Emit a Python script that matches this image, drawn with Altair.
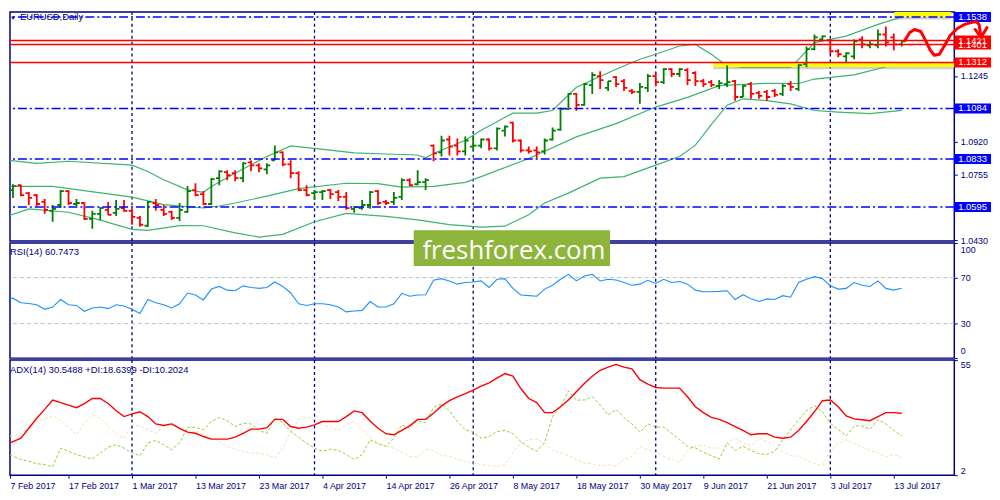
"""EURUSD daily chart: OHLC bars with Bollinger bands, RSI(14) and ADX(14) panels."""

import json

import altair as alt
import pandas as pd

_FONT = "Liberation Sans"
_NAVY = "#000080"
_BULL = "#008000"
_BEAR = "#FF0000"
_BAND = "#3CB371"
_BLUE = "#0000FF"
_RED = "#FF0000"

_W = 952
_H_PRICE, _H_RSI, _H_ADX = 231, 116, 116
_X_DOMAIN = [0.625, 119.625]
_PRICE_DOMAIN = [1.0426, 1.1563]

# one bar per trading day, 7 Feb 2017 .. 14 Jul 2017
opens = [
    1.0743, 1.0679, 1.0703, 1.0664, 1.0654, 1.0620, 1.0576, 1.0605, 1.0674, 1.0610,
    1.0615, 1.0536, 1.0561, 1.0581, 1.0566, 1.0590, 1.0576, 1.0541, 1.0502, 1.0615,
    1.0581, 1.0571, 1.0541, 1.0571, 1.0679, 1.0659, 1.0610, 1.0738, 1.0768, 1.0763,
    1.0738, 1.0817, 1.0802, 1.0782, 1.0827, 1.0866, 1.0807, 1.0763, 1.0679, 1.0664,
    1.0669, 1.0679, 1.0669, 1.0645, 1.0586, 1.0590, 1.0605, 1.0674, 1.0620, 1.0620,
    1.0645, 1.0728, 1.0708, 1.0718, 1.0900, 1.0866, 1.0930, 1.0900, 1.0871, 1.0895,
    1.0900, 1.0930, 1.0886, 1.0974, 1.1014, 1.0925, 1.0876, 1.0876, 1.0871, 1.0930,
    1.0979, 1.1082, 1.1156, 1.1102, 1.1200, 1.1245, 1.1186, 1.1240, 1.1220, 1.1171,
    1.1166, 1.1186, 1.1245, 1.1215, 1.1279, 1.1255, 1.1274, 1.1260, 1.1220, 1.1215,
    1.1196, 1.1205, 1.1220, 1.1141, 1.1205, 1.1161, 1.1166, 1.1171, 1.1156, 1.1205,
    1.1181, 1.1304, 1.1378, 1.1427, 1.1422, 1.1368, 1.1343, 1.1343, 1.1427, 1.1397,
    1.1397, 1.1451, 1.1437, 1.1402,
]
highs = [
    1.0753, 1.0708, 1.0705, 1.0669, 1.0659, 1.0635, 1.0605, 1.0679, 1.0679, 1.0635,
    1.0617, 1.0576, 1.0595, 1.0620, 1.0630, 1.0630, 1.0586, 1.0551, 1.0625, 1.0635,
    1.0605, 1.0576, 1.0615, 1.0699, 1.0713, 1.0674, 1.0738, 1.0777, 1.0777, 1.0777,
    1.0817, 1.0827, 1.0812, 1.0812, 1.0900, 1.0871, 1.0827, 1.0772, 1.0703, 1.0679,
    1.0679, 1.0684, 1.0679, 1.0669, 1.0600, 1.0630, 1.0674, 1.0679, 1.0630, 1.0669,
    1.0738, 1.0738, 1.0777, 1.0738, 1.0905, 1.0949, 1.0949, 1.0935, 1.0945, 1.0949,
    1.0935, 1.0935, 1.0989, 1.0999, 1.1018, 1.0930, 1.0895, 1.0895, 1.0935, 1.0989,
    1.1087, 1.1161, 1.1161, 1.1210, 1.1264, 1.1269, 1.1220, 1.1245, 1.1230, 1.1181,
    1.1210, 1.1255, 1.1264, 1.1284, 1.1284, 1.1284, 1.1284, 1.1269, 1.1230, 1.1225,
    1.1225, 1.1299, 1.1225, 1.1200, 1.1215, 1.1171, 1.1176, 1.1181, 1.1205, 1.1220,
    1.1304, 1.1392, 1.1451, 1.1446, 1.1427, 1.1378, 1.1363, 1.1427, 1.1442, 1.1417,
    1.1476, 1.1491, 1.1456, 1.1422,
]
lows = [
    1.0654, 1.0640, 1.0649, 1.0605, 1.0600, 1.0561, 1.0522, 1.0590, 1.0605, 1.0600,
    1.0531, 1.0487, 1.0531, 1.0556, 1.0551, 1.0571, 1.0507, 1.0497, 1.0497, 1.0576,
    1.0551, 1.0531, 1.0526, 1.0566, 1.0649, 1.0605, 1.0605, 1.0703, 1.0728, 1.0723,
    1.0718, 1.0772, 1.0768, 1.0758, 1.0827, 1.0797, 1.0738, 1.0674, 1.0649, 1.0630,
    1.0630, 1.0635, 1.0625, 1.0581, 1.0566, 1.0581, 1.0586, 1.0605, 1.0605, 1.0605,
    1.0630, 1.0699, 1.0703, 1.0679, 1.0822, 1.0846, 1.0851, 1.0851, 1.0851, 1.0876,
    1.0886, 1.0876, 1.0876, 1.0945, 1.0915, 1.0866, 1.0861, 1.0836, 1.0856, 1.0925,
    1.0974, 1.1077, 1.1073, 1.1097, 1.1156, 1.1181, 1.1171, 1.1191, 1.1171, 1.1156,
    1.1107, 1.1166, 1.1196, 1.1205, 1.1240, 1.1240, 1.1201, 1.1196, 1.1191, 1.1191,
    1.1181, 1.1191, 1.1122, 1.1141, 1.1132, 1.1132, 1.1122, 1.1141, 1.1146, 1.1171,
    1.1171, 1.1289, 1.1373, 1.1417, 1.1353, 1.1338, 1.1314, 1.1328, 1.1383, 1.1383,
    1.1383, 1.1392, 1.1373, 1.1392,
]
closes = [
    1.0684, 1.0699, 1.0654, 1.0640, 1.0610, 1.0581, 1.0586, 1.0674, 1.0615, 1.0615,
    1.0536, 1.0561, 1.0590, 1.0556, 1.0586, 1.0576, 1.0546, 1.0507, 1.0620, 1.0605,
    1.0561, 1.0541, 1.0581, 1.0674, 1.0654, 1.0610, 1.0733, 1.0772, 1.0753, 1.0738,
    1.0812, 1.0802, 1.0787, 1.0802, 1.0866, 1.0807, 1.0763, 1.0679, 1.0654, 1.0669,
    1.0674, 1.0659, 1.0645, 1.0590, 1.0595, 1.0605, 1.0669, 1.0615, 1.0615, 1.0640,
    1.0728, 1.0703, 1.0718, 1.0728, 1.0861, 1.0925, 1.0895, 1.0871, 1.0925, 1.0900,
    1.0930, 1.0886, 1.0984, 1.0994, 1.0925, 1.0876, 1.0871, 1.0866, 1.0925, 1.0974,
    1.1082, 1.1156, 1.1102, 1.1205, 1.1250, 1.1225, 1.1220, 1.1205, 1.1186, 1.1166,
    1.1191, 1.1245, 1.1215, 1.1279, 1.1255, 1.1279, 1.1225, 1.1220, 1.1205, 1.1201,
    1.1210, 1.1215, 1.1141, 1.1196, 1.1156, 1.1146, 1.1141, 1.1151, 1.1196, 1.1191,
    1.1299, 1.1378, 1.1437, 1.1442, 1.1368, 1.1353, 1.1358, 1.1417, 1.1402, 1.1402,
    1.1451, 1.1412, 1.1402, 1.1417,
]

date_labels = [
    "7 Feb 2017", "17 Feb 2017", "1 Mar 2017", "13 Mar 2017", "23 Mar 2017",
    "4 Apr 2017", "14 Apr 2017", "26 Apr 2017", "8 May 2017", "18 May 2017",
    "30 May 2017", "9 Jun 2017", "21 Jun 2017", "3 Jul 2017", "13 Jul 2017",
]
month_starts = [16, 39, 59, 82, 104]

# Bollinger bands (20, 2)
upper_idx = [0, 4, 8, 16, 18, 20, 23, 25, 26, 29, 33, 36, 39, 44, 48, 52, 53, 54, 58, 60,
             64, 67, 69, 72, 77, 80, 82, 85, 87, 89, 91, 93, 99, 100, 102, 106, 110, 113]
upper_val = [1.0828, 1.0812, 1.0822, 1.0803, 1.0771, 1.0730, 1.0680, 1.0668, 1.0697, 1.0763,
             1.0846, 1.0898, 1.0886, 1.0864, 1.0858, 1.0853, 1.0839, 1.0861, 1.0926, 1.0976,
             1.1061, 1.1061, 1.1074, 1.1189, 1.1279, 1.1328, 1.1353, 1.1394, 1.1402, 1.1353,
             1.1295, 1.1288, 1.1288, 1.1328, 1.1411, 1.1443, 1.1501, 1.1537]
mid_idx = [0, 6, 16, 20, 25, 27, 29, 33, 37, 43, 47, 50, 54, 58, 60, 66, 72, 77, 82, 86,
           90, 96, 100, 102, 107, 113]
mid_val = [1.0697, 1.0697, 1.0644, 1.0607, 1.0590, 1.0600, 1.0615, 1.0649, 1.0686, 1.0713,
           1.0711, 1.0694, 1.0697, 1.0717, 1.0746, 1.0836, 1.0943, 1.1009, 1.1091, 1.1139,
           1.1197, 1.1209, 1.1208, 1.1230, 1.1251, 1.1311]
lower_idx = [0, 3, 8, 12, 16, 18, 22, 25, 29, 32, 35, 39, 43, 48, 52, 56, 60, 63, 66, 68,
             71, 75, 78, 82, 85, 87, 89, 91, 93, 96, 99, 102, 105, 109, 113]
lower_val = [1.0545, 1.0586, 1.0569, 1.0530, 1.0484, 1.0479, 1.0503, 1.0502, 1.0467, 1.0446,
             1.0459, 1.0522, 1.0563, 1.0549, 1.0531, 1.0508, 1.0495, 1.0500, 1.0557, 1.0615,
             1.0664, 1.0738, 1.0746, 1.0803, 1.0846, 1.0902, 1.1004, 1.1100, 1.1132, 1.1123,
             1.1107, 1.1074, 1.1066, 1.1058, 1.1075]

rsi = [
    50.9, 52.1, 48.1, 47.5, 46.4, 42.4, 44.4, 50.9, 46.4, 45.8,
    40.7, 43.6, 44.4, 43.0, 46.4, 45.3, 42.4, 38.7, 50.9, 48.1,
    46.4, 43.6, 47.2, 56.6, 54.9, 50.6, 60.0, 62.3, 59.1, 58.6,
    62.8, 61.4, 60.6, 61.4, 66.2, 62.3, 56.6, 47.2, 45.8, 47.2,
    47.2, 46.4, 44.4, 40.2, 41.0, 41.5, 49.2, 44.4, 44.4, 47.2,
    56.3, 53.8, 54.9, 55.1, 67.7, 69.1, 67.1, 64.3, 65.7, 66.2,
    67.1, 61.4, 68.5, 69.1, 60.6, 54.9, 54.3, 53.8, 60.0, 63.4,
    68.5, 72.8, 67.1, 71.3, 72.8, 67.1, 68.5, 67.9, 65.7, 63.4,
    64.3, 67.7, 64.9, 68.5, 65.7, 66.6, 64.3, 59.1, 57.7, 57.7,
    58.0, 58.6, 50.9, 55.1, 51.5, 49.2, 51.5, 50.9, 54.3, 52.9,
    65.7, 68.5, 70.8, 69.1, 62.8, 60.0, 60.6, 65.7, 63.4, 62.3,
    67.1, 60.6, 59.1, 60.7,
]
adx = [
    16.0, 17.5, 19.0, 23.6, 28.2, 32.3, 36.6, 35.4, 34.3, 33.1,
    35.0, 37.3, 37.3, 35.0, 31.7, 29.0, 30.2, 31.2, 29.0, 25.6,
    24.9, 25.6, 23.6, 21.8, 21.3, 19.8, 18.6, 18.6, 18.6, 19.5,
    21.3, 23.2, 23.2, 23.9, 27.7, 27.7, 24.4, 23.6, 24.1, 25.2,
    26.7, 26.7, 26.7, 29.0, 31.6, 30.8, 27.0, 23.6, 21.1, 20.6,
    22.6, 24.7, 27.7, 27.7, 30.5, 33.9, 36.3, 38.1, 39.6, 41.2,
    43.0, 44.5, 46.7, 48.8, 47.6, 41.9, 37.3, 35.4, 30.8, 30.8,
    33.5, 36.6, 40.4, 44.2, 47.6, 50.3, 51.8, 53.0, 51.8, 51.0,
    46.0, 43.9, 42.4, 42.1, 42.1, 42.1, 38.1, 33.5, 30.8, 28.6,
    27.7, 26.2, 24.4, 22.6, 20.6, 21.1, 21.1, 19.5, 19.0, 19.5,
    22.6, 26.7, 31.2, 36.3, 36.6, 33.5, 29.3, 27.9, 27.5, 27.1,
    29.0, 30.8, 30.8, 30.5,
]
plus_di = [
    12.2, 10.7, 9.2, 8.4, 7.3, 6.9, 5.8, 14.5, 13.0, 11.5,
    10.4, 9.4, 12.2, 14.9, 16.0, 14.5, 12.2, 11.0, 16.8, 18.0,
    16.0, 13.7, 16.8, 24.1, 24.1, 22.9, 26.7, 28.6, 27.1, 24.4,
    25.9, 25.6, 22.6, 21.3, 28.6, 26.2, 22.1, 19.5, 16.8, 14.5,
    13.0, 14.0, 13.4, 11.5, 9.2, 11.5, 18.3, 16.5, 15.3, 19.0,
    25.2, 23.6, 27.1, 26.2, 33.2, 34.8, 31.7, 26.7, 22.9, 21.7,
    19.0, 19.8, 22.1, 22.6, 21.1, 17.5, 14.9, 13.0, 17.1, 29.0,
    33.5, 40.8, 36.6, 36.6, 38.1, 34.3, 29.7, 32.3, 28.6, 25.6,
    21.7, 25.6, 24.1, 24.1, 21.3, 18.3, 15.3, 14.5, 12.5, 11.0,
    9.4, 16.8, 13.4, 15.3, 13.4, 11.9, 11.5, 13.0, 18.3, 22.9,
    27.5, 31.7, 34.0, 31.2, 25.9, 22.9, 20.1, 24.7, 24.7, 23.2,
    27.5, 25.6, 22.6, 20.1,
]
minus_di = [
    20.1, 20.1, 21.3, 24.4, 26.7, 27.7, 29.3, 27.1, 24.4, 20.6,
    25.9, 29.7, 28.2, 24.4, 21.3, 19.0, 25.2, 24.7, 22.9, 21.3,
    24.7, 26.2, 23.6, 21.1, 22.6, 20.6, 19.5, 17.5, 15.3, 14.0,
    13.0, 12.2, 12.2, 11.5, 9.9, 14.5, 22.1, 27.7, 28.6, 27.7,
    24.7, 24.4, 22.6, 25.2, 26.7, 22.9, 19.8, 16.8, 15.3, 14.5,
    12.5, 10.7, 10.4, 14.0, 13.4, 11.0, 10.7, 9.2, 8.4, 7.6,
    6.9, 6.4, 6.0, 6.9, 12.2, 17.1, 18.3, 18.6, 16.8, 13.4,
    12.2, 11.0, 9.2, 7.6, 7.3, 6.4, 6.7, 6.4, 9.2, 10.7,
    15.3, 13.7, 12.5, 10.7, 9.2, 7.9, 13.4, 15.3, 16.0, 14.5,
    14.5, 16.8, 19.0, 17.1, 15.3, 19.0, 17.5, 15.3, 13.0, 11.0,
    10.7, 8.9, 7.3, 6.4, 13.4, 16.5, 18.3, 16.5, 14.9, 13.4,
    12.2, 10.4, 11.5, 10.2,
]

blue_levels = [1.1538, 1.1084, 1.0833, 1.0595]
red_levels = [1.1421, 1.1401, 1.1312]
label_prices = [1.1538, 1.1084, 1.0833, 1.0595, 1.1401, 1.1421, 1.1312]
label_colors = [_BLUE, _BLUE, _BLUE, _BLUE, _RED, _RED, _RED]

# yellow marker zones
zone_start = [89.25, 112.1]
zone_end = [119.625, 119.25]
zone_low = [1.1290, 1.1538]
zone_high = [1.1312, 1.1563]

# hand-drawn forecast path
forecast_idx = [113.4, 114.0, 114.6, 115.4, 116.0, 116.6, 117.1, 117.75, 118.4, 119.1,
                120.0, 120.9, 121.75, 122.4, 122.75, 123.0]
forecast_price = [1.1422, 1.1461, 1.1476, 1.1466, 1.1422, 1.1373, 1.1348, 1.1353, 1.1397, 1.1446,
                  1.1481, 1.1501, 1.1510, 1.1515, 1.1501, 1.1437]
arrow_idx = [122.25, 123.0, 123.75]
arrow_price = [1.1476, 1.1437, 1.1486]

_XS = alt.Scale(domain=_X_DOMAIN, nice=False, zero=False)
_PS = alt.Scale(domain=_PRICE_DOMAIN, nice=False, zero=False)
_PRICE_AXIS = alt.Axis(orient="right", values=[1.1245, 1.0920, 1.0755, 1.0430], format=".4f",
                       title=None, tickSize=3, labelPadding=3)


def _x(field: str, axis=None) -> alt.X:
    return alt.X(f"{field}:Q", scale=_XS, axis=axis)


def _py(field: str) -> alt.Y:
    return alt.Y(f"{field}:Q", scale=_PS, axis=_PRICE_AXIS)


def _caption(text: str, x: float, y: float, size: float = 9.5, font: str = _FONT,
             color: str = _NAVY, align: str = "left") -> alt.Chart:
    return (
        alt.Chart(pd.DataFrame({"t": [text]}))
        .mark_text(align=align, baseline="alphabetic", font=font, fontSize=size, color=color)
        .encode(x=alt.value(x), y=alt.value(y), text="t:N")
    )


def _separators(axis=None) -> alt.Chart:
    return (
        alt.Chart(pd.DataFrame({"i": month_starts}))
        .mark_rule(color=_NAVY, strokeDash=[3, 3], strokeWidth=1.3)
        .encode(x=_x("i", axis))
    )


def _band(idx: list, vals: list) -> alt.Chart:
    return (
        alt.Chart(pd.DataFrame({"i": idx, "p": vals}))
        .mark_line(color=_BAND, strokeWidth=1.2, clip=True)
        .encode(x=_x("i"), y=_py("p"))
    )


def price_panel() -> alt.LayerChart:
    bars = pd.DataFrame({"i": range(len(opens)), "o": opens, "h": highs, "l": lows, "c": closes})
    bars["dir"] = ["up" if c >= o else "down" for o, c in zip(opens, closes)]
    color = alt.Color("dir:N", scale=alt.Scale(domain=["up", "down"], range=[_BULL, _BEAR]), legend=None)
    base = alt.Chart(bars)
    wick = base.mark_rule(strokeWidth=1.8, clip=True).encode(x=_x("i"), y=_py("l"), y2="h:Q", color=color)
    open_tick = (
        base.transform_calculate(xa="datum.i - 0.42")
        .mark_rule(strokeWidth=1.8, clip=True)
        .encode(x=_x("xa"), x2="i:Q", y=_py("o"), color=color)
    )
    close_tick = (
        base.transform_calculate(xb="datum.i + 0.42")
        .mark_rule(strokeWidth=1.8, clip=True)
        .encode(x=_x("i"), x2="xb:Q", y=_py("c"), color=color)
    )

    zones = pd.DataFrame({"a": zone_start, "b": zone_end, "lo": zone_low, "hi": zone_high})
    zone_shadow = (
        alt.Chart(zones)
        .transform_calculate(slo="datum.lo - 0.0012", shi="datum.hi - 0.0012")
        .mark_rect(color="#9a9a9a", opacity=0.45)
        .encode(x=_x("a"), x2="b:Q", y=_py("slo"), y2="shi:Q")
    )
    zone_rect = alt.Chart(zones).mark_rect(color="#FFFF00").encode(x=_x("a"), x2="b:Q", y=_py("lo"), y2="hi:Q")

    blue = (
        alt.Chart(pd.DataFrame({"p": blue_levels}))
        .mark_rule(color=_BLUE, strokeWidth=1.5, strokeDash=[9, 3, 2, 3])
        .encode(y=_py("p"))
    )
    red = alt.Chart(pd.DataFrame({"p": red_levels})).mark_rule(color=_RED, strokeWidth=1.5).encode(y=_py("p"))

    labels = pd.DataFrame({"p": label_prices, "col": label_colors})
    label_box = (
        alt.Chart(labels)
        .transform_calculate(lo="datum.p - 0.00245", hi="datum.p + 0.00245")
        .mark_rect()
        .encode(x=alt.value(_W), x2=alt.value(_W + 37), y=_py("lo"), y2="hi:Q",
                color=alt.Color("col:N", scale=None))
    )
    label_text = (
        alt.Chart(labels)
        .mark_text(align="left", baseline="middle", font=_FONT, fontSize=9.5, color="white")
        .encode(x=alt.value(_W + 4), y=_py("p"), text=alt.Text("p:Q", format=".4f"))
    )

    forecast = (
        alt.Chart(pd.DataFrame({"i": forecast_idx, "p": forecast_price}))
        .mark_line(color=_RED, strokeWidth=3, strokeCap="round", strokeJoin="round")
        .encode(x=_x("i"), y=_py("p"))
    )
    arrow = (
        alt.Chart(pd.DataFrame({"i": arrow_idx, "p": arrow_price}))
        .mark_line(color=_RED, strokeWidth=3, strokeCap="round", strokeJoin="round")
        .encode(x=_x("i"), y=_py("p"))
    )

    return alt.layer(
        _separators(),
        _band(upper_idx, upper_val),
        _band(mid_idx, mid_val),
        _band(lower_idx, lower_val),
        zone_shadow,
        zone_rect,
        wick,
        open_tick,
        close_tick,
        blue,
        red,
        label_box,
        label_text,
        forecast,
        arrow,
        _caption("\u25bc", 3, 8, size=6, align="center"),
        _caption("EURUSD,Daily", 10, 8),
    ).properties(width=_W, height=_H_PRICE)


def rsi_panel() -> alt.LayerChart:
    scale = alt.Scale(domain=[0, 100], nice=False)
    axis = alt.Axis(orient="right", values=[0, 30, 70, 100], title=None, labelFlush=True,
                    labelFlushOffset=-3, tickSize=3, labelPadding=3)
    levels = (
        alt.Chart(pd.DataFrame({"v": [30, 70]}))
        .mark_rule(color="#C0C0C0", strokeDash=[4, 3], strokeWidth=1)
        .encode(y=alt.Y("v:Q", scale=scale, axis=axis))
    )
    line = (
        alt.Chart(pd.DataFrame({"i": range(len(rsi)), "v": rsi}))
        .mark_line(color="#1E90FF", strokeWidth=1.1, clip=True)
        .encode(x=_x("i"), y=alt.Y("v:Q", scale=scale, axis=axis))
    )
    logo_box = (
        alt.Chart(pd.DataFrame({"t": ["freshforex.com"]}))
        .mark_rect(color="#8DB53C")
        .encode(x=alt.value(407), x2=alt.value(605), y=alt.value(-13), y2=alt.value(23))
    )
    logo_text = _caption("freshforex.com", 508, 16, size=26, font="Open Sans", color="white", align="center")
    return alt.layer(
        _separators(), levels, line, logo_box, logo_text, _caption("RSI(14) 60.7473", 0, 12)
    ).properties(width=_W, height=_H_RSI)


def adx_panel() -> alt.LayerChart:
    scale = alt.Scale(domain=[2, 55], nice=False, zero=False)
    axis = alt.Axis(orient="right", values=[2, 55], title=None, labelFlush=True, tickSize=3, labelPadding=3)
    label_expr = f"{json.dumps(date_labels)}[round(datum.value / 8)]"
    x_axis = alt.Axis(
        orient="bottom",
        values=[0.625] + [8 * k for k in range(1, len(date_labels))],
        labelExpr=label_expr,
        labelAlign="left",
        labelOverlap=False,
        labelFlush=False,
        tickSize=3,
        labelPadding=3,
        title=None,
    )
    df = pd.DataFrame({"i": range(len(adx)), "adx": adx, "pdi": plus_di, "mdi": minus_di})
    base = alt.Chart(df)
    x_enc = _x("i", x_axis)
    minus = base.mark_line(color="#F5DEB3", strokeWidth=1, strokeDash=[3, 2], clip=True).encode(
        x=x_enc, y=alt.Y("mdi:Q", scale=scale, axis=axis))
    plus = base.mark_line(color="#9ACD32", strokeWidth=1, strokeDash=[3, 2], clip=True).encode(
        x=x_enc, y=alt.Y("pdi:Q", scale=scale, axis=axis))
    main = base.mark_line(color=_RED, strokeWidth=1.4, clip=True).encode(
        x=x_enc, y=alt.Y("adx:Q", scale=scale, axis=axis))
    return alt.layer(
        _separators(x_axis), minus, plus, main,
        _caption("ADX(14) 30.5488 +DI:18.6399 -DI:10.2024", 0, 13),
    ).properties(width=_W, height=_H_ADX)


chart = (
    alt.vconcat(price_panel(), rsi_panel(), adx_panel(), spacing=2, bounds="flush")
    .properties(padding=0, background="white")
    .configure_view(stroke=_NAVY, strokeWidth=1.5)
    .configure_axis(
        labelFont=_FONT, labelFontSize=9, labelColor=_NAVY, tickColor=_NAVY,
        domain=False, grid=False,
    )
)

chart.save("out.html", embed_options={"renderer": "svg", "actions": False})
